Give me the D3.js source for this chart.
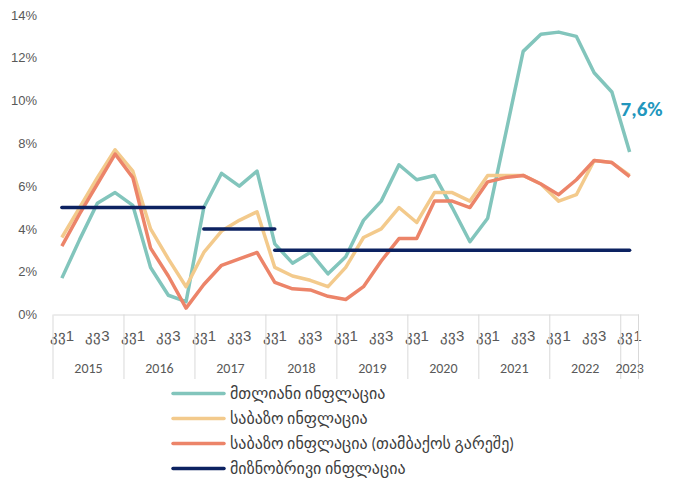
<!DOCTYPE html>
<html>
<head>
<meta charset="utf-8">
<script src="https://cdn.jsdelivr.net/npm/d3@7"></script>
<style>
  body { margin: 0; background: #fff; }
  svg { font-family: Calibri, Carlito, "Liberation Sans", "DejaVu Sans", sans-serif; }
</style>
</head>
<body>
<script>
// quarterly data, 2015 Q1 .. 2023 Q1
var years = [2015, 2016, 2017, 2018, 2019, 2020, 2021, 2022, 2023];
var quarterNames = ["კვ1", "კვ2", "კვ3", "კვ4"];

var headline = [1.7, 3.5, 5.2, 5.7, 5.1, 2.2, 0.9, 0.6,
                5.0, 6.6, 6.0, 6.7, 3.3, 2.4, 2.9, 1.9,
                2.7, 4.4, 5.3, 7.0, 6.3, 6.5, 5.0, 3.4,
                4.5, 8.4, 12.3, 13.1, 13.2, 13.0, 11.3, 10.4,
                7.6];
var core = [3.6, 5.0, 6.4, 7.7, 6.7, 4.0, 2.6, 1.3,
            2.9, 3.9, 4.4, 4.8, 2.2, 1.8, 1.6, 1.3,
            2.2, 3.6, 4.0, 5.0, 4.3, 5.7, 5.7, 5.3,
            6.5, 6.5, 6.5, 6.1, 5.3, 5.6, 7.2, 7.1,
            6.5];
var coreExTobacco = [3.2, 4.7, 6.1, 7.5, 6.4, 3.1, 1.8, 0.3,
                     1.4, 2.3, 2.6, 2.9, 1.5, 1.2, 1.15, 0.85,
                     0.7, 1.3, 2.5, 3.55, 3.55, 5.3, 5.3, 5.0,
                     6.2, 6.4, 6.5, 6.1, 5.6, 6.3, 7.2, 7.1,
                     6.45];
// target inflation: value, first and last quarter
var targetValues = [5, 4, 3];
var targetFrom = ["2015Q1", "2017Q1", "2018Q1"];
var targetTo = ["2017Q1", "2018Q1", "2023Q1"];

var yTicks = [0, 2, 4, 6, 8, 10, 12, 14];
var lastLabel = "7,6%";

var seriesNames = ["მთლიანი ინფლაცია", "საბაზო ინფლაცია",
                   "საბაზო ინფლაცია (თამბაქოს გარეშე)", "მიზნობრივი ინფლაცია"];
var colors = ["#82c5bc", "#f3ca8c", "#ec8469", "#0c2261"];

var periods = [];
years.forEach(function(y) {
  var n = y === 2023 ? 1 : 4;
  for (var q = 1; q <= n; q++) periods.push(y + "Q" + q);
});

var width = 674, height = 481;

var svg = d3.select("body").append("svg")
    .attr("width", width)
    .attr("height", height);

var x = d3.scaleBand().domain(periods).range([53, 638.5]);
var y = d3.scaleLinear().domain([0, 14]).range([314.5, 15]);
var cx = function(p) { return x(p) + x.bandwidth() / 2; };

// y axis labels
var yAxis = d3.axisLeft(y).tickValues(yTicks)
    .tickFormat(function(d) { return d + "%"; })
    .tickSize(0).tickPadding(3);
svg.append("g")
    .attr("transform", "translate(40,0)")
    .call(yAxis)
    .call(function(g) { g.select(".domain").remove(); })
    .selectAll("text")
      .style("font-size", "13px")
      .style("fill", "#595959");

// x axis
var xAxis = d3.axisBottom(x)
    .tickFormat(function(d) {
      var q = +d.slice(-1);
      return (q === 1 || q === 3) ? quarterNames[q - 1] : "";
    })
    .tickSize(0).tickPadding(16);
var gx = svg.append("g")
    .attr("transform", "translate(0," + y(0) + ")")
    .call(xAxis);
gx.select(".domain").attr("stroke", "#d9d9d9");
gx.selectAll("text")
    .style("font-size", "15px")
    .style("fill", "#595959");

// year separators and labels
var yearStarts = years.map(function(yr) { return x(yr + "Q1"); });
yearStarts.push(x.range()[1]);
svg.selectAll(".sep")
    .data(yearStarts)
  .enter().append("line")
    .attr("x1", function(d) { return d; })
    .attr("x2", function(d) { return d; })
    .attr("y1", y(0))
    .attr("y2", 379)
    .attr("stroke", "#d9d9d9")
    .attr("stroke-width", 1);

svg.selectAll(".year")
    .data(years)
  .enter().append("text")
    .attr("x", function(d, i) { return (yearStarts[i] + yearStarts[i + 1]) / 2; })
    .attr("y", 373)
    .attr("text-anchor", "middle")
    .style("font-size", "14px")
    .style("fill", "#595959")
    .text(function(d) { return d; });

// lines
var line = d3.line()
    .x(function(d, i) { return cx(periods[i]); })
    .y(function(d) { return y(d); });

[headline, core, coreExTobacco].forEach(function(s, k) {
  svg.append("path")
      .datum(s)
      .attr("fill", "none")
      .attr("stroke", colors[k])
      .attr("stroke-width", 3.5)
      .attr("stroke-linejoin", "round")
      .attr("d", line);
});

// target segments, drawn over the lines
svg.selectAll(".target")
    .data(targetValues)
  .enter().append("line")
    .attr("x1", function(d, i) { return cx(targetFrom[i]); })
    .attr("x2", function(d, i) { return cx(targetTo[i]); })
    .attr("y1", function(d) { return y(d); })
    .attr("y2", function(d) { return y(d); })
    .attr("stroke", colors[3])
    .attr("stroke-width", 3.5)
    .attr("stroke-linecap", "round");

// last value label
svg.append("text")
    .attr("x", cx(periods[periods.length - 1]) + 12)
    .attr("y", 116)
    .attr("text-anchor", "middle")
    .style("font-size", "21px")
    .style("font-weight", "bold")
    .style("fill", "#2196bd")
    .text(lastLabel);

// legend
var legend = svg.selectAll(".legend")
    .data(seriesNames)
  .enter().append("g")
    .attr("transform", function(d, i) { return "translate(173," + (393.5 + i * 25) + ")"; });
legend.append("line")
    .attr("x1", 0).attr("x2", 51)
    .attr("stroke", function(d, i) { return colors[i]; })
    .attr("stroke-width", 3.5)
    .attr("stroke-linecap", "round");
legend.append("text")
    .attr("x", 57)
    .attr("y", 5)
    .style("font-size", "16px")
    .style("fill", "#404040")
    .text(function(d) { return d; });
</script>
</body>
</html>
